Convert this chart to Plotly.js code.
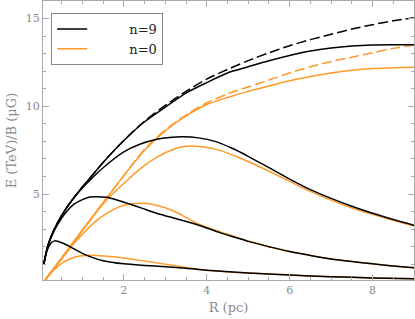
<!DOCTYPE html>
<html>
<head>
<meta charset="utf-8">
<script src="https://cdn.plot.ly/plotly-3.0.1.min.js"></script>
<style>html,body{margin:0;padding:0;background:#fff}#chart{width:415px;height:319px}</style>
</head>
<body>
<div id="chart"></div>
<script>
// n=9 (black)
const bDashX = [0.07,0.15,0.25,0.4,0.6,0.8,1.0,1.25,1.5,2.0,2.5,3.0,3.5,4.0,4.5,5.0,5.5,6.0,6.5,7.0,7.5,8.0,8.5,9.0];
const bDashY = [1.0,1.9,2.6,3.35,4.15,4.8,5.4,6.1,6.8,8.05,9.15,10.05,10.85,11.55,12.1,12.6,13.05,13.45,13.8,14.1,14.4,14.65,14.87,15.05];
const bTopX  = [0.07,0.15,0.25,0.4,0.6,0.8,1.0,1.25,1.5,2.0,2.5,3.0,3.5,4.0,4.5,5.0,5.5,6.0,6.5,7.0,7.5,8.0,8.5,9.0];
const bTopY  = [1.0,1.9,2.6,3.35,4.15,4.8,5.4,6.1,6.8,8.05,9.12,9.95,10.75,11.35,11.9,12.25,12.6,12.9,13.15,13.32,13.43,13.49,13.51,13.5];
const bH3X = [0.07,0.15,0.25,0.4,0.6,0.8,1.0,1.25,1.5,2.0,2.4,2.8,3.1,3.43,3.8,4.2,4.6,5.0,5.5,6.0,6.5,7.0,7.5,8.0,8.5,9.0];
const bH3Y = [1.0,1.9,2.6,3.35,4.15,4.8,5.35,5.95,6.5,7.4,7.85,8.12,8.22,8.26,8.2,8.0,7.62,7.15,6.5,5.85,5.25,4.75,4.3,3.9,3.55,3.22];
const bH2X = [0.07,0.15,0.25,0.4,0.6,0.8,1.0,1.18,1.34,1.58,1.85,2.14,2.45,2.79,3.1,3.51,3.9,4.31,4.7,5.0,5.5,6.0,6.5,7.0,7.5,8.0,8.5,9.0];
const bH2Y = [1.0,1.88,2.55,3.25,3.95,4.42,4.68,4.83,4.85,4.81,4.65,4.43,4.18,3.9,3.7,3.43,3.15,2.8,2.52,2.3,2.0,1.72,1.5,1.3,1.15,1.02,0.9,0.8];
const bH1X = [0.07,0.12,0.18,0.25,0.33,0.42,0.55,0.7,0.85,1.0,1.2,1.5,2.0,2.5,3.0,3.5,4.0,5.0,6.0,7.0,8.0,9.0];
const bH1Y = [1.0,1.55,1.95,2.22,2.33,2.3,2.18,2.0,1.8,1.62,1.42,1.2,1.02,0.93,0.86,0.77,0.66,0.5,0.38,0.29,0.22,0.17];
// n=0 (orange)
const oDashX = [0.1,0.5,1.0,1.5,2.0,2.5,3.0,3.5,4.0,4.5,5.0,5.5,6.0,6.5,7.0,7.5,8.0,8.5,9.0];
const oDashY = [0.1,1.35,2.95,4.5,6.05,7.55,8.65,9.5,10.2,10.7,11.1,11.5,11.9,12.25,12.55,12.8,13.05,13.3,13.5];
const oTopX  = [0.1,0.5,1.0,1.5,2.0,2.5,3.0,3.5,4.0,4.5,5.0,5.5,6.0,6.5,7.0,7.5,8.0,8.5,9.0];
const oTopY  = [0.1,1.35,2.95,4.5,6.05,7.5,8.6,9.45,10.1,10.5,10.85,11.15,11.45,11.7,11.9,12.05,12.15,12.2,12.22];
const oH3X = [0.1,0.5,1.0,1.3,1.6,2.0,2.4,2.8,3.2,3.5,3.9,4.3,4.7,5.0,5.5,6.0,6.5,7.0,7.5,8.0,8.5,9.0];
const oH3Y = [0.1,1.35,2.9,3.85,4.7,5.6,6.45,7.1,7.55,7.72,7.7,7.5,7.15,6.85,6.3,5.72,5.15,4.65,4.2,3.85,3.5,3.18];
const oH2X = [0.1,0.5,0.8,1.0,1.18,1.4,1.66,1.9,2.15,2.5,2.8,3.03,3.3,3.51,3.8,4.3,4.7,5.0,5.5,6.0,6.5,7.0,7.5,8.0,8.5,9.0];
const oH2Y = [0.1,1.3,2.2,2.7,3.14,3.6,4.0,4.28,4.43,4.47,4.35,4.19,3.92,3.65,3.3,2.86,2.55,2.32,2.0,1.72,1.5,1.3,1.15,1.02,0.9,0.8];
const oH1X = [0.1,0.3,0.5,0.7,0.9,1.1,1.3,1.6,2.0,2.5,3.0,3.5,4.0,5.0,6.0,7.0,8.0,9.0];
const oH1Y = [0.1,0.65,1.05,1.3,1.45,1.5,1.5,1.45,1.35,1.18,1.0,0.82,0.66,0.5,0.38,0.29,0.22,0.17];

const xTicks = [2,4,6,8];
const yTicks = [5,10,15];
const legendNames = ['n=9','n=0'];

const BLACK = '#000000', ORANGE = '#ff9a2a';
const PAD = '\u00a0\u00a0\u00a0\u00a0\u00a0\u00a0\u00a0\u00a0\u00a0';
function tr(x, y, color, dash, name) {
  return {x: x, y: y, type: 'scatter', mode: 'lines',
    line: {color: color, width: 1.5, dash: dash || 'solid', shape: 'spline', smoothing: 0.8},
    name: name ? PAD + name : '', showlegend: !!name, hoverinfo: 'skip'};
}
const data = [
  tr(oH1X, oH1Y, ORANGE), tr(oH2X, oH2Y, ORANGE), tr(oH3X, oH3Y, ORANGE),
  tr(oTopX, oTopY, ORANGE), tr(oDashX, oDashY, ORANGE, '10px,4px'),
  tr(bH1X, bH1Y, BLACK), tr(bH2X, bH2Y, BLACK), tr(bH3X, bH3Y, BLACK),
  tr(bTopX, bTopY, BLACK), tr(bDashX, bDashY, BLACK, '10px,4px'),
  tr([null],[null], BLACK, 'solid', legendNames[0]),
  tr([null],[null], ORANGE, 'solid', legendNames[1])
];
const FONT = 'DejaVu Serif';
const GRAY = '#8a8a8a';
const axisCommon = {
  showgrid: false, zeroline: false, showline: true, linecolor: '#aaaaaa', linewidth: 1,
  mirror: 'allticks', ticks: 'inside', ticklen: 6, tickcolor: '#aaaaaa', tickwidth: 1,
  tickfont: {family: FONT, size: 11, color: GRAY}
};
const layout = {
  width: 415, height: 319,
  margin: {l: 43, r: 1, t: 1, b: 39},
  paper_bgcolor: '#ffffff', plot_bgcolor: '#ffffff',
  showlegend: true,
  legend: {x: 0.022, y: 0.957, xanchor: 'left', yanchor: 'top',
    bgcolor: '#ffffff', bordercolor: '#888888', borderwidth: 1,
    font: {family: FONT, size: 13, color: '#222222'}, tracegroupgap: 0},
  xaxis: Object.assign({}, axisCommon, {
    range: [0.05, 9], tickvals: xTicks, ticktext: xTicks.map(String),
    minor: {dtick: 0.5, tick0: 0, ticks: 'inside', ticklen: 3, tickcolor: '#aaaaaa'},
    title: {text: 'R (pc)', font: {family: FONT, size: 13, color: GRAY}, standoff: 6}
  }),
  yaxis: Object.assign({}, axisCommon, {
    range: [0.1, 16], tickvals: yTicks, ticktext: yTicks.map(String),
    minor: {dtick: 1, tick0: 0, ticks: 'inside', ticklen: 3, tickcolor: '#aaaaaa'},
    title: {text: 'E (TeV)/B (\u03bcG)', font: {family: FONT, size: 13, color: GRAY}, standoff: 6}
  })
};
Plotly.newPlot('chart', data, layout, {displayModeBar: false, staticPlot: true});
</script>
</body>
</html>
